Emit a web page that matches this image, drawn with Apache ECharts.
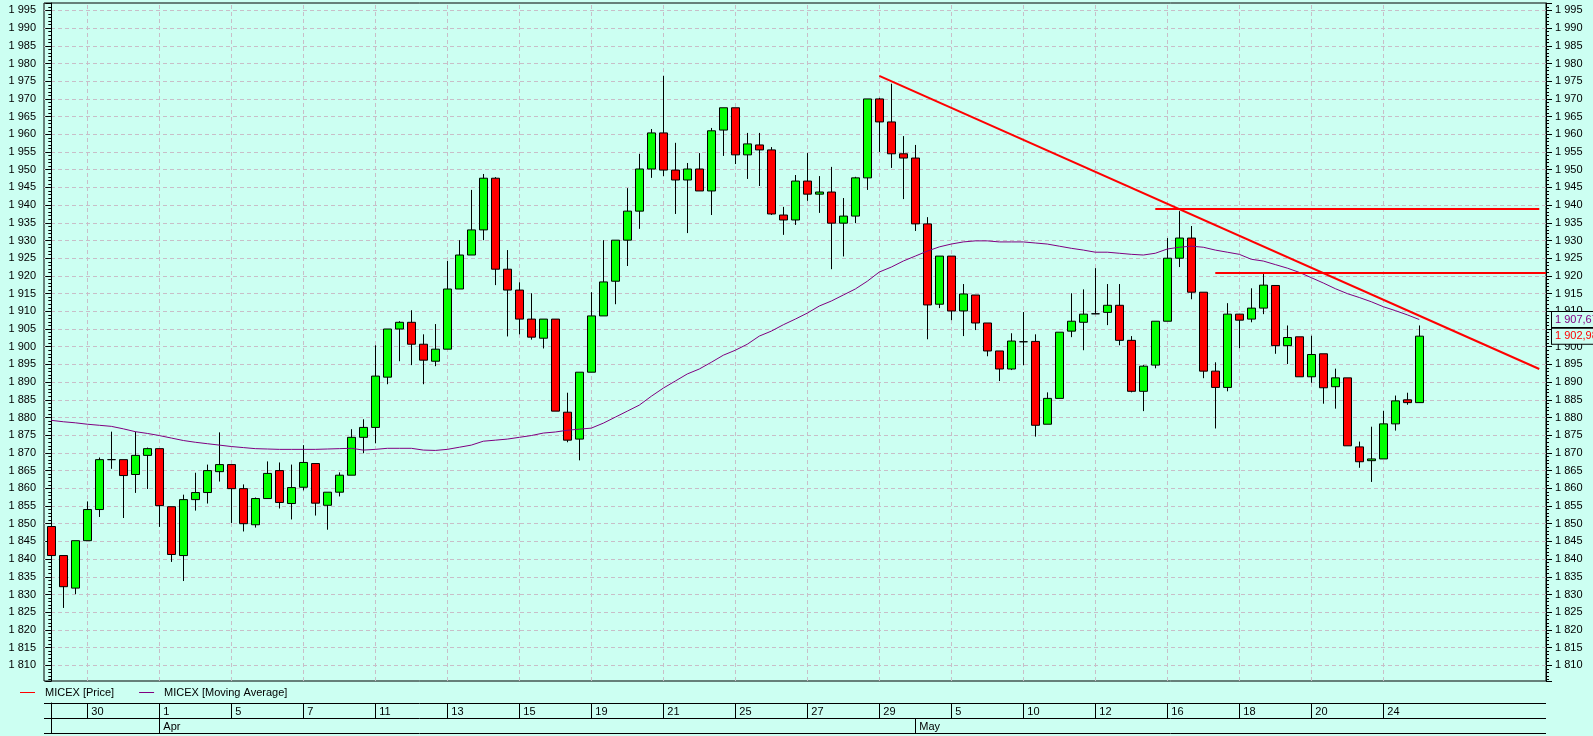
<!DOCTYPE html>
<html><head><meta charset="utf-8">
<script src="https://cdn.jsdelivr.net/npm/echarts@6/dist/echarts.min.js"></script>
<style>html,body{margin:0;padding:0;background:#CCFFF2;} #c{width:1593px;height:736px;}</style>
</head><body><div id="c"></div>
<script>
// ---- data (candle index = position on the time axis) ----
const OPEN  = [1849.2,1841.0,1831.8,1845.2,1854.0,1868.1,1868.1,1863.9,1869.3,1871.2,
  1854.8,1841.0,1856.8,1858.8,1864.7,1866.7,1859.9,1849.7,1857.1,1865.0,
  1855.7,1860.3,1867.0,1855.2,1858.9,1863.7,1874.4,1877.2,1891.4,1905.0,
  1906.9,1900.7,1895.9,1899.3,1916.3,1925.9,1933.0,1947.6,1921.9,1916.0,
  1907.8,1902.4,1907.8,1881.5,1873.9,1892.8,1908.7,1918.5,1930.1,1938.3,
  1950.2,1960.4,1949.9,1947.1,1950.2,1944.0,1961.2,1967.5,1954.2,1957.0,
  1955.6,1937.2,1935.8,1946.8,1943.1,1943.7,1934.9,1936.9,1947.7,1970.0,
  1963.5,1954.5,1953.3,1934.7,1912.0,1925.6,1910.1,1914.6,1906.7,1898.8,
  1893.7,1901.4,1901.5,1878.1,1885.4,1904.4,1906.9,1909.3,1909.7,1911.7,
  1901.8,1887.4,1894.8,1907.2,1925.0,1930.7,1915.4,1893.1,1888.5,1909.2,
  1907.8,1910.9,1917.3,1900.3,1902.8,1891.5,1898.0,1888.7,1891.2,1871.7,
  1867.8,1868.3,1878.2,1885.0,1884.2];
const CLOSE = [1841.0,1832.2,1845.2,1854.0,1868.1,1868.1,1863.6,1869.3,1871.2,1855.1,
  1841.3,1856.8,1858.8,1865.0,1866.7,1859.9,1850.0,1857.1,1864.2,1856.0,
  1860.2,1867.3,1855.8,1858.9,1863.7,1874.4,1877.2,1891.7,1905.0,1906.9,
  1900.7,1896.2,1899.3,1916.3,1925.9,1933.0,1947.6,1921.9,1916.0,1907.8,
  1902.7,1907.8,1881.8,1873.6,1892.8,1908.7,1918.3,1930.1,1938.3,1950.2,
  1960.4,1949.9,1947.1,1950.2,1944.0,1961.0,1967.5,1954.2,1957.3,1955.6,
  1937.5,1935.8,1946.8,1943.1,1943.7,1934.9,1936.9,1947.7,1970.0,1963.5,
  1954.5,1953.3,1934.7,1911.8,1925.6,1910.1,1914.9,1906.7,1898.8,1893.7,
  1901.6,1901.4,1877.8,1885.4,1904.1,1907.2,1909.2,1909.3,1911.7,1901.8,
  1887.4,1894.5,1907.2,1925.0,1930.7,1915.4,1893.1,1888.5,1909.2,1907.5,
  1910.9,1917.4,1900.3,1902.6,1891.5,1897.8,1888.4,1891.2,1872.0,1867.5,
  1868.3,1878.2,1884.7,1884.2,1902.98];
const LOW   = [1841.0,1826.2,1830.1,1845.2,1851.9,1865.5,1851.6,1858.7,1859.8,1849.1,
  1839.2,1833.8,1853.7,1855.7,1861.9,1850.2,1847.8,1848.9,1857.1,1854.3,
  1851.2,1859.4,1852.3,1848.3,1857.7,1863.7,1869.9,1872.7,1889.4,1895.9,
  1894.8,1889.4,1894.5,1899.3,1916.3,1925.9,1930.1,1917.4,1902.9,1903.5,
  1902.0,1899.5,1881.8,1873.0,1867.9,1892.8,1908.7,1912.0,1922.8,1933.3,
  1947.7,1948.2,1937.5,1932.1,1944.0,1937.2,1953.9,1951.6,1947.4,1945.4,
  1937.2,1931.6,1934.4,1941.2,1937.8,1921.9,1925.5,1934.9,1944.3,1955.0,
  1950.5,1941.7,1932.7,1902.1,1910.9,1907.5,1903.0,1904.7,1897.3,1890.3,
  1893.4,1894.8,1874.6,1878.1,1885.4,1902.7,1899.0,1909.3,1906.1,1900.4,
  1887.1,1881.8,1893.9,1907.2,1922.5,1913.4,1891.1,1876.9,1887.4,1899.6,
  1906.9,1909.2,1898.0,1895.1,1891.5,1889.8,1883.9,1882.5,1872.0,1865.8,
  1861.8,1868.3,1876.3,1883.6,1884.2];
const HIGH  = [1850.7,1841.0,1845.2,1856.3,1868.7,1876.0,1868.1,1876.0,1871.5,1871.2,
  1854.8,1858.2,1864.4,1866.7,1875.8,1866.7,1861.1,1857.4,1867.6,1867.3,
  1866.7,1872.2,1867.0,1858.9,1864.5,1876.7,1879.5,1900.4,1905.0,1907.2,
  1910.3,1903.5,1906.4,1924.2,1930.1,1944.3,1948.8,1947.9,1927.3,1918.2,
  1915.1,1907.8,1907.8,1887.0,1892.8,1915.4,1930.1,1930.1,1944.8,1954.5,
  1961.5,1976.5,1957.6,1951.9,1954.7,1961.8,1967.5,1967.5,1960.4,1960.4,
  1956.4,1939.5,1948.5,1954.7,1948.2,1950.8,1942.0,1948.0,1970.0,1970.3,
  1974.3,1959.5,1957.0,1936.6,1925.6,1925.6,1917.7,1914.6,1906.7,1898.8,
  1903.8,1909.8,1903.5,1887.1,1904.1,1915.1,1916.2,1922.2,1917.7,1917.7,
  1903.0,1894.8,1907.2,1930.7,1938.3,1934.1,1915.4,1895.6,1912.3,1909.2,
  1916.5,1920.8,1917.3,1906.0,1902.8,1903.1,1898.0,1893.8,1891.2,1873.2,
  1877.4,1881.9,1886.2,1887.0,1906.0];
const MA = [1879.2,1878.8,1878.5,1878.1,1877.8,1877.5,1876.8,1876.0,1875.5,1874.9,
  1874.2,1873.5,1873.0,1872.6,1872.2,1871.8,1871.5,1871.2,1871.1,1871.0,
  1871.0,1871.0,1871.0,1871.1,1871.2,1871.3,1870.8,1871.0,1871.3,1871.3,
  1871.3,1870.8,1870.7,1871.0,1871.6,1872.2,1873.3,1873.6,1873.9,1874.4,
  1874.9,1875.6,1875.9,1876.4,1876.7,1877.0,1878.4,1880.1,1881.8,1883.5,
  1886.0,1888.3,1890.3,1892.3,1893.7,1895.6,1897.6,1899.0,1900.7,1903.0,
  1904.4,1906.2,1907.8,1909.5,1911.5,1912.9,1914.6,1916.3,1918.5,1921.1,
  1922.5,1924.2,1925.6,1927.0,1928.2,1929.0,1929.6,1929.9,1929.9,1929.6,
  1929.6,1929.6,1929.3,1929.0,1928.4,1927.8,1927.3,1926.7,1926.7,1926.4,
  1926.1,1925.9,1926.4,1927.6,1928.1,1928.4,1928.1,1927.3,1926.7,1926.1,
  1924.7,1924.2,1923.2,1922.2,1921.0,1919.5,1918.0,1916.4,1915.0,1913.9,
  1912.7,1911.3,1910.2,1909.0,1907.67];
const DAY_LABELS    = ['30','1','5','7','11','13','15','19','21','25','27','29','5','10','12','16','18','20','24'];
const DAY_LABEL_IDX = [3,9,15,21,27,33,39,45,51,57,63,69,75,81,87,93,99,105,111];
const MONTH_LABELS  = ['Apr','May'];
const MONTH_IDX     = [9,72];
// trend lines: [startIndex, startValue, endIndex, endValue]
const TREND_LINES = [[69,1976.5,124,1893.7],[92,1939,124,1939],[97,1921,124.56,1921]];
const SERIES_NAMES = ['MICEX [Price]','MICEX [Moving Average]'];

// ---- layout ----
const XMIN = -0.61, XMAX = 124.56;
const YMIN = 1805.56, YMAX = 1997.1;
const FONT = "'Liberation Sans', Arial, sans-serif";
const BG = '#CCFFF2';

function fmtInt(v){ return String(Math.round(v)).replace(/\B(?=(\d{3})+(?!\d))/g,' '); }
function fmtDec(v){ const p = v.toFixed(2).split('.'); return p[0].replace(/\B(?=(\d{3})+(?!\d))/g,' ') + ',' + p[1]; }

const candles = OPEN.map((o,i)=>[i, o, CLOSE[i], LOW[i], HIGH[i]]);
const maData = MA.map((v,i)=>[i,v]);
const lastClose = CLOSE[CLOSE.length-1];
const lastMA = MA[MA.length-1];

const tableData = DAY_LABEL_IDX.map(i=>[i,0]).concat(MONTH_IDX.map(i=>[i,1]));
const tableText = DAY_LABELS.concat(MONTH_LABELS);

const yAxisCommon = {
  type:'value', gridIndex:0, min:YMIN, max:YMAX, minInterval:5, maxInterval:5,
  axisLine:{show:true, lineStyle:{color:'#000', width:1}},
  axisTick:{show:true, length:6, lineStyle:{color:'#000'}},
  minorTick:{show:true, splitNumber:5, length:3, lineStyle:{color:'#000'}},
  minorSplitLine:{show:false}
};

const valueBox = (v, color) => ({
  yAxis: v,
  lineStyle:{color:'rgba(0,0,0,0)', width:0},
  label:{show:true, position:'end', distance:6, formatter: fmtDec(v), color: color,
    fontFamily: FONT, fontSize:11, backgroundColor: BG, borderColor:'#000', borderWidth:1,
    padding:[1,3,1,3], lineHeight:13}
});

const option = {
  backgroundColor: BG,
  animation:false,
  textStyle:{fontFamily:FONT},
  grid:[
    {left:44, right:47, top:3, bottom:55, show:true, borderColor:'#000', borderWidth:1, backgroundColor:'transparent'},
    {left:44, right:47, top:703, height:30, show:false}
  ],
  legend:{
    left:20, top:687, padding:0, itemGap:25, itemWidth:15, itemHeight:1, icon:'rect', selectedMode:false,
    textStyle:{fontFamily:FONT, fontSize:11, color:'#000', padding:[0,0,0,5]},
    data:[
      {name:SERIES_NAMES[0], itemStyle:{color:'#FF0000', borderColor:'#FF0000', borderWidth:0}},
      {name:SERIES_NAMES[1], itemStyle:{color:'#800080', borderColor:'#800080', borderWidth:0}}
    ]
  },
  xAxis:[
    {type:'value', gridIndex:0, min:XMIN, max:XMAX, show:false},
    {type:'value', gridIndex:1, min:XMIN, max:XMAX, show:false}
  ],
  yAxis:[
    Object.assign({}, yAxisCommon, {position:'left',
      axisLabel:{margin:8, formatter:fmtInt, color:'#000', fontFamily:FONT, fontSize:11, showMinLabel:false, showMaxLabel:false},
      splitLine:{show:true, showMinLine:false, showMaxLine:false, lineStyle:{color:'#C8BEC8', width:1, type:[4,3]}}}),
    Object.assign({}, yAxisCommon, {position:'right',
      axisLabel:{margin:9, formatter:fmtInt, color:'#000', fontFamily:FONT, fontSize:11, showMinLabel:false, showMaxLabel:false},
      splitLine:{show:false}}),
    {type:'value', gridIndex:1, min:0, max:2, interval:1, inverse:true,
      axisLine:{show:true, lineStyle:{color:'#000'}}, axisTick:{show:false}, axisLabel:{show:false},
      splitLine:{show:true, lineStyle:{color:'#000', width:1, type:'solid'}}}
  ],
  series:[
    { // vertical date grid lines (behind candles)
      type:'line', name:'_grid', data:[], xAxisIndex:0, yAxisIndex:0, z:1, silent:true,
      markLine:{silent:true, z:1, symbol:['none','none'], animation:false, label:{show:false},
        lineStyle:{color:'#C8BEC8', width:1, type:[4,3]},
        data: DAY_LABEL_IDX.map(i=>({xAxis:i}))
      }
    },
    { // last-value boxes on the right edge
      type:'line', name:'_values', data:[], xAxisIndex:0, yAxisIndex:0, z:6, silent:true, clip:false,
      markLine:{silent:true, z:6, symbol:['none','none'], animation:false,
        data: [valueBox(lastMA,'#800080'), valueBox(lastClose,'#FF0000')]
      }
    },
    {
      type:'candlestick', name:SERIES_NAMES[0], xAxisIndex:0, yAxisIndex:0, z:2,
      data:candles, barWidth:8, silent:true,
      itemStyle:{color:'#00FF00', color0:'#FF0000', borderColor:'#000', borderColor0:'#000', borderColorDoji:'#000', borderWidth:1},
      markLine:{silent:true, z:5, symbol:['none','none'], animation:false, label:{show:false},
        lineStyle:{color:'#FF0000', width:2, type:'solid'},
        data: TREND_LINES.map(t=>[{coord:[t[0],t[1]]},{coord:[t[2],t[3]]}])
      }
    },
    {
      type:'line', name:SERIES_NAMES[1], xAxisIndex:0, yAxisIndex:0, z:3,
      data:maData, showSymbol:false, symbol:'none', silent:true,
      lineStyle:{color:'#800080', width:1}, itemStyle:{color:'#800080'}
    },
    {
      type:'custom', name:'_table', xAxisIndex:1, yAxisIndex:2, silent:true, clip:false,
      data: tableData,
      renderItem:function(params, api){
        const x = api.value(0), r = api.value(1);
        const p0 = api.coord([x, r]);
        const p1 = api.coord([x, r+1]);
        return {type:'group', children:[
          {type:'line', shape:{x1:Math.round(p0[0])+0.5, y1:p0[1], x2:Math.round(p0[0])+0.5, y2:p1[1]}, style:{stroke:'#000', lineWidth:1}},
          {type:'text', style:{text: tableText[params.dataIndex], x: p0[0]+4, y:(p0[1]+p1[1])/2+1, verticalAlign:'middle', align:'left', fill:'#000', font:'11px ' + FONT}}
        ]};
      }
    }
  ]
};
const chart = echarts.init(document.getElementById('c'), null, {renderer:'canvas'});
chart.setOption(option);
</script>
</body></html>
